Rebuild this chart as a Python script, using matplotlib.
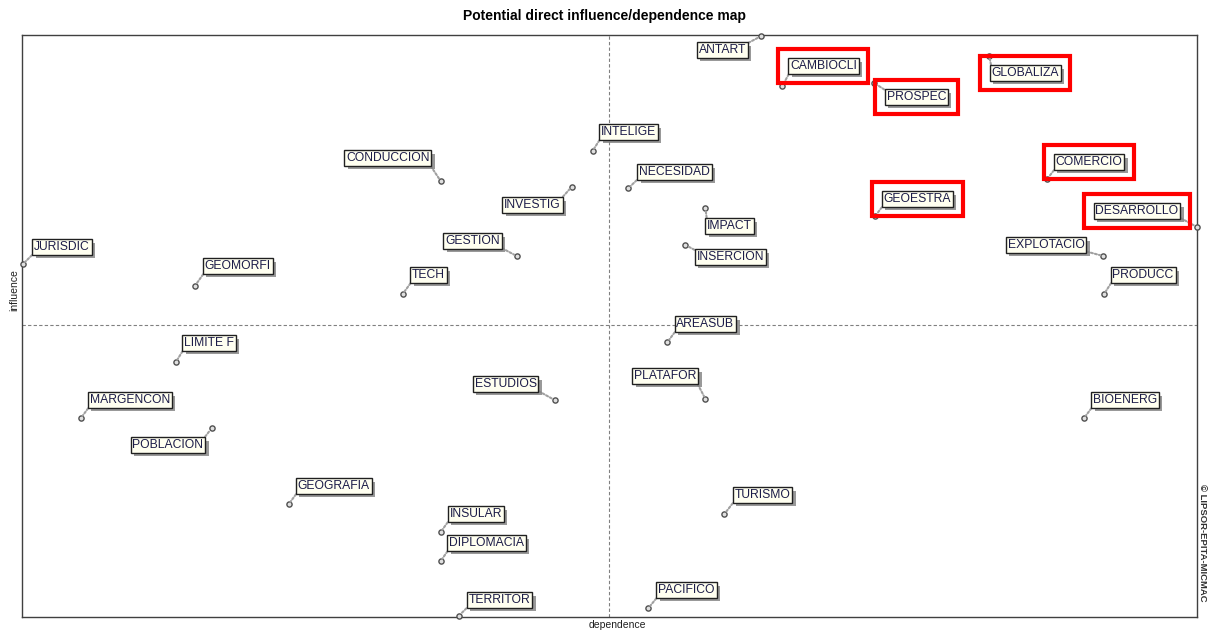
import matplotlib
matplotlib.use("Agg")
import matplotlib.pyplot as plt
import matplotlib.patheffects as pe

plt.rcParams["font.family"] = ["Liberation Sans", "DejaVu Sans"]

# variables of the MICMAC map: dependence (x) / influence (y)
names = [
    "ANTART", "CAMBIOCLI", "PROSPEC", "GLOBALIZA", "INTELIGE", "CONDUCCION",
    "NECESIDAD", "INVESTIG", "COMERCIO", "GEOESTRA", "IMPACT", "DESARROLLO",
    "JURISDIC", "GESTION", "INSERCION", "EXPLOTACIO", "GEOMORFI", "TECH",
    "PRODUCC", "AREASUB", "LIMITE F", "ESTUDIOS", "PLATAFOR", "MARGENCON",
    "BIOENERG", "POBLACION", "GEOGRAFIA", "TURISMO", "INSULAR", "DIPLOMACIA",
    "TERRITOR", "PACIFICO",
]
dependence = [
    740, 761, 853, 968, 571, 419,
    607, 550, 1026, 854, 684, 1176,
    1, 495, 664, 1082, 173, 381,
    1083, 646, 154, 533, 684, 59,
    1063, 190, 267, 703, 419, 419,
    437, 627,
]
influence = [
    581, 531, 534, 561, 466, 436,
    429, 430, 438, 401, 409, 390,
    353, 361, 372, 361, 331, 323,
    323, 275, 255, 217, 218, 199,
    199, 189, 113, 103, 85, 56,
    1, 9,
]
highlighted = ["CAMBIOCLI", "PROSPEC", "GLOBALIZA", "COMERCIO", "GEOESTRA", "DESARROLLO"]

# label placement (pixels from the point)
label_offsets = {
    "ANTART": (-39, -14), "CAMBIOCLI": (41, 20), "PROSPEC": (42, -14),
    "GLOBALIZA": (36, -17), "INTELIGE": (36, 19), "CONDUCCION": (-53, 23),
    "NECESIDAD": (46, 16), "INVESTIG": (-39, -18), "COMERCIO": (42, 17),
    "GEOESTRA": (42, 17), "IMPACT": (24, -18), "DESARROLLO": (-60, 16),
    "JURISDIC": (39, 17), "GESTION": (-44, 15), "INSERCION": (45, -12),
    "EXPLOTACIO": (-57, 11), "GEOMORFI": (43, 20), "TECH": (26, 19),
    "PRODUCC": (39, 19), "AREASUB": (38, 18), "LIMITE F": (33, 19),
    "ESTUDIOS": (-49, 16), "PLATAFOR": (-40, 23), "MARGENCON": (49, 18),
    "BIOENERG": (41, 18), "POBLACION": (-44, -17), "GEOGRAFIA": (45, 18),
    "TURISMO": (38, 19), "INSULAR": (35, 18), "DIPLOMACIA": (46, 18),
    "TERRITOR": (41, 16), "PACIFICO": (38, 18),
}

fig = plt.figure(figsize=(12.08, 6.3), dpi=100)
ax = fig.add_axes([22 / 1208, 13 / 630, 1175 / 1208, 582 / 630])
ax.set_xlim(0, 1176)
ax.set_ylim(0, 582)
ax.set_xticks([])
ax.set_yticks([])
for s in ax.spines.values():
    s.set_color("#404040")
    s.set_linewidth(1)

# quadrant separators
ax.axvline(587, color="#808080", lw=0.8, ls=(0, (3, 2)), zorder=1)
ax.axhline(292, color="#808080", lw=0.8, ls=(0, (3, 2)), zorder=1)

ax.scatter(dependence, influence, s=14, facecolor="#e0e0e0", edgecolor="#505050",
           linewidth=1, zorder=4, clip_on=False)

shadow = [pe.SimplePatchShadow(offset=(2.5, -2.5), shadow_rgbFace="#808080", alpha=0.8),
          pe.Normal()]

for name, x, y in zip(names, dependence, influence):
    dx, dy = label_offsets[name]
    # connector starts at the box corner nearest to the point
    relpos = (0 if dx > 0 else 1, 0 if dy > 0 else 1)
    t = ax.annotate(
        name, (x, y), xytext=(dx, dy), textcoords="offset pixels",
        ha="center", va="center", fontsize=8.7, color="#1c1c48", zorder=6,
        bbox=dict(boxstyle="square,pad=0.15", fc="#fffff0", ec="#202020", lw=1),
        arrowprops=dict(arrowstyle="-", color="#a0a0a0", lw=1.5, ls=(0, (1, 1)),
                        shrinkA=0, shrinkB=2, relpos=relpos),
        annotation_clip=False,
    )
    t.get_bbox_patch().set_path_effects(shadow)
    if name in highlighted:
        ax.annotate(
            name, (x, y), xytext=(dx, dy), textcoords="offset pixels",
            ha="center", va="center", fontsize=8.7, color="none", zorder=7,
            bbox=dict(boxstyle="square,pad=0.95", fc="none", ec="#ff0000", lw=3),
            annotation_clip=False,
        )

fig.suptitle("Potential direct influence/dependence map", y=0.985,
             fontsize=10, fontweight="bold")
fig.text(14 / 1208, 1 - 290 / 630, "influence", rotation=90, ha="center",
         va="center", fontsize=7.5, color="#202020")
fig.text(617 / 1208, 1 - 625 / 630, "dependence", ha="center", va="center",
         fontsize=7.5, color="#202020")
fig.text(1203 / 1208, 1 - 543 / 630, "© LIPSOR-EPITA-MICMAC", rotation=-90,
         ha="center", va="center", fontsize=6.8, fontweight="bold", color="#303030")

fig.savefig("out.png", dpi=100)
